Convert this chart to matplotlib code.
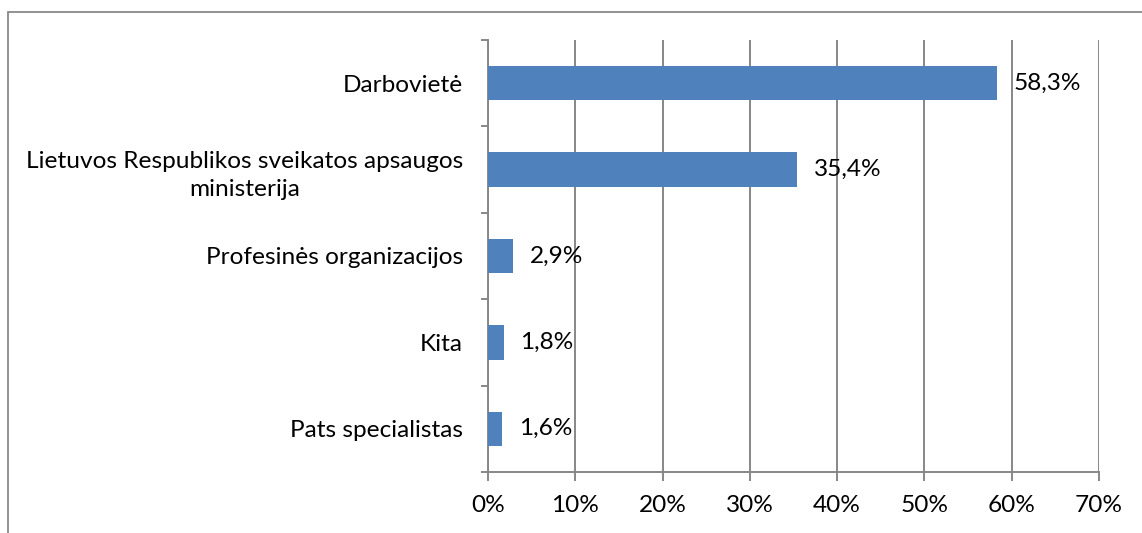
import matplotlib.pyplot as plt
from matplotlib.patches import Rectangle
from matplotlib.ticker import FixedLocator, PercentFormatter

plt.rcParams['font.family'] = ['Lato', 'DejaVu Sans']

# data (top to bottom)
categories = ['Darbovietė', 'Lietuvos Respublikos sveikatos apsaugos\nministerija',
              'Profesinės organizacijos', 'Kita', 'Pats specialistas']
values = [58.3, 35.4, 2.9, 1.8, 1.6]
value_labels = ['58,3%', '35,4%', '2,9%', '1,8%', '1,6%']
x_ticks = [0, 10, 20, 30, 40, 50, 60, 70]

bar_color = '#4F81BD'
grid_color = '#878787'
fs = 17.6

fig = plt.figure(figsize=(11.42, 5.33), dpi=100)
ax = fig.add_axes([488 / 1142, 1 - 472 / 533, (1099 - 488) / 1142, (472 - 40) / 533])

# outer chart border (cut off at right and bottom)
fig.patches.append(Rectangle((7.5 / 1142, -0.2), 1.5, 1.2 - 11.5 / 533, transform=fig.transFigure,
                             fill=False, edgecolor='#898989', linewidth=1.3))

y = list(range(len(categories)))
ax.barh(y, values, height=0.4, color=bar_color, zorder=3)
for yi, v, lab in zip(y, values, value_labels):
    ax.text(v + 1.9, yi, lab, va='center', ha='left', fontsize=fs, color='black', zorder=4)

ax.set_xlim(0, 70)
ax.set_ylim(len(categories) - 0.5, -0.5)
ax.set_xticks(x_ticks)
ax.xaxis.set_major_formatter(PercentFormatter(decimals=0))
ax.set_yticks(y)
ax.set_yticklabels(categories, multialignment='center', linespacing=1.45)
ax.yaxis.set_minor_locator(FixedLocator([i - 0.5 for i in range(len(categories) + 1)]))

ax.grid(axis='x', color=grid_color, linewidth=1.4, zorder=0)
ax.set_axisbelow(True)
for s in ['top', 'right']:
    ax.spines[s].set_visible(False)
for s in ['left', 'bottom']:
    ax.spines[s].set_color(grid_color)
    ax.spines[s].set_linewidth(1.4)

ax.tick_params(axis='y', which='major', length=0, pad=18, labelsize=fs)
ax.tick_params(axis='y', which='minor', length=5, width=1.4, color=grid_color)
ax.tick_params(axis='x', length=6.5, width=1.4, color=grid_color, pad=10, labelsize=fs)

fig.savefig('out.png', dpi=100)
